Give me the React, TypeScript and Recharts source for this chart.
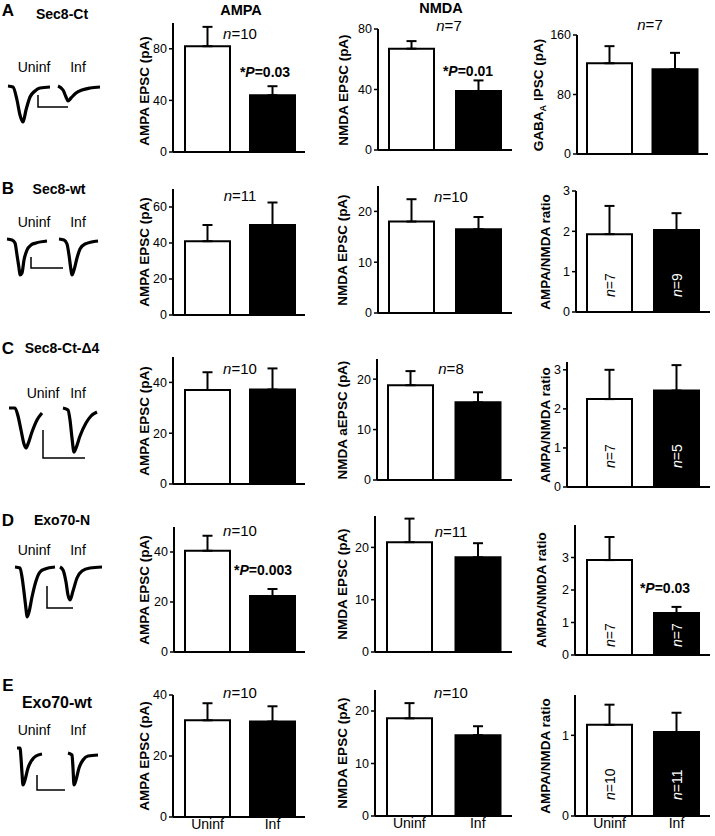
import React from 'react';
import { BarChart, Bar, Cell, XAxis, YAxis, ErrorBar, LabelList, LineChart, Line } from 'recharts';

const groups = ['Uninf', 'Inf'];
const rowLetters = ['A', 'B', 'C', 'D', 'E'];
const constructs = ['Sec8-Ct', 'Sec8-wt', 'Sec8-Ct-Δ4', 'Exo70-N', 'Exo70-wt'];

// mean / sem, order [Uninf, Inf]
const sec8CtAmpa = [82, 44];
const sec8CtAmpaSem = [15, 7];
const sec8CtNmda = [67, 39];
const sec8CtNmdaSem = [5, 7];
const sec8CtGaba = [122, 114];
const sec8CtGabaSem = [23, 22];

const sec8WtAmpa = [41, 50];
const sec8WtAmpaSem = [9, 12.5];
const sec8WtNmda = [18, 16.5];
const sec8WtNmdaSem = [4.4, 2.4];
const sec8WtRatio = [1.93, 2.03];
const sec8WtRatioSem = [0.7, 0.42];

const d4Ampa = [37, 37.2];
const d4AmpaSem = [7, 8.3];
const d4Nmda = [18.8, 15.4];
const d4NmdaSem = [2.8, 2];
const d4Ratio = [2.25, 2.47];
const d4RatioSem = [0.75, 0.65];

const exoNAmpa = [40.5, 22.4];
const exoNAmpaSem = [6, 2.8];
const exoNNmda = [21, 18.1];
const exoNNmdaSem = [4.5, 2.7];
const exoNRatio = [2.92, 1.29];
const exoNRatioSem = [0.71, 0.19];

const exoWtAmpa = [31.7, 31.3];
const exoWtAmpaSem = [5.6, 5];
const exoWtNmda = [18.6, 15.4];
const exoWtNmdaSem = [2.9, 1.7];
const exoWtRatio = [1.13, 1.04];
const exoWtRatioSem = [0.25, 0.24];

// cell counts
const sec8CtN = ['10', '7', '7'];
const sec8WtN = ['11', '10'];
const sec8WtRatioN = ['7', '9'];
const d4N = ['10', '8'];
const d4RatioN = ['7', '5'];
const exoNN = ['10', '11'];
const exoNRatioN = ['7', '7'];
const exoWtN = ['10', '10'];
const exoWtRatioN = ['10', '11'];

// tick labels
const ticks0_40_80 = [0, 40, 80];
const ticks0_80_160 = [0, 80, 160];
const ticks0_20_40_60 = [0, 20, 40, 60];
const ticks0_20_40 = [0, 20, 40];
const ticks0_10_20 = [0, 10, 20];
const ticks0_3 = [0, 1, 2, 3];
const ticks0_1 = [0, 1];

// example traces (time, current)
const uninfA = [{ t: 8, i: 0 }, { t: 13, i: -1 }, { t: 17, i: -14 }, { t: 20, i: -29 }, { t: 23, i: -36 }, { t: 26, i: -24 }, { t: 30, i: -11 }, { t: 35, i: -5 }, { t: 40, i: -2 }, { t: 50, i: -1 }];
const infA = [{ t: 58, i: 0 }, { t: 63, i: -4 }, { t: 66, i: -11 }, { t: 68, i: -15 }, { t: 71, i: -12 }, { t: 76, i: -7 }, { t: 82, i: -4 }, { t: 90, i: -2 }, { t: 100, i: -1 }];
const barA = [{ t: 38, i: -9 }, { t: 38, i: -21 }, { t: 68, i: -21 }];

const uninfB = [{ t: 7, i: 1 }, { t: 12, i: 0 }, { t: 15, i: -3 }, { t: 17, i: -15 }, { t: 19, i: -28 }, { t: 20, i: -35 }, { t: 22, i: -33 }, { t: 24, i: -20 }, { t: 27, i: -10 }, { t: 31, i: -5 }, { t: 36, i: -3 }, { t: 47, i: -1 }];
const infB = [{ t: 59, i: 1 }, { t: 64, i: 0 }, { t: 67, i: -4 }, { t: 69, i: -15 }, { t: 71, i: -30 }, { t: 72, i: -35 }, { t: 74, i: -30 }, { t: 77, i: -18 }, { t: 80, i: -9 }, { t: 85, i: -4 }, { t: 98, i: -1 }];
const barB = [{ t: 31, i: -17 }, { t: 31, i: -28 }, { t: 63, i: -28 }];

const uninfC = [{ t: 9, i: 0 }, { t: 15, i: 0 }, { t: 18, i: -8 }, { t: 21, i: -22 }, { t: 24, i: -36 }, { t: 26, i: -40 }, { t: 28, i: -36 }, { t: 32, i: -24 }, { t: 37, i: -12 }, { t: 42, i: -5 }];
const infC = [{ t: 63, i: 0 }, { t: 68, i: -2 }, { t: 70, i: -12 }, { t: 72, i: -30 }, { t: 74, i: -44 }, { t: 76, i: -40 }, { t: 80, i: -28 }, { t: 86, i: -15 }, { t: 91, i: -8 }, { t: 97, i: -4 }];
const barC = [{ t: 43, i: -22 }, { t: 43, i: -50 }, { t: 85, i: -50 }];

const uninfD = [{ t: 15, i: 0 }, { t: 20, i: -1 }, { t: 22, i: -10 }, { t: 24, i: -25 }, { t: 26, i: -42 }, { t: 27, i: -50 }, { t: 29, i: -45 }, { t: 32, i: -30 }, { t: 36, i: -14 }, { t: 40, i: -5 }, { t: 45, i: -2 }, { t: 55, i: 0 }];
const infD = [{ t: 60, i: 0 }, { t: 63, i: -3 }, { t: 66, i: -15 }, { t: 68, i: -28 }, { t: 70, i: -33 }, { t: 73, i: -24 }, { t: 77, i: -11 }, { t: 82, i: -4 }, { t: 90, i: -1 }, { t: 102, i: 0 }];
const barD = [{ t: 47, i: -19 }, { t: 47, i: -41 }, { t: 73, i: -41 }];

const uninfE = [{ t: 17, i: 0 }, { t: 20, i: 0 }, { t: 21, i: -10 }, { t: 22, i: -25 }, { t: 23, i: -37 }, { t: 25, i: -32 }, { t: 28, i: -20 }, { t: 32, i: -12 }, { t: 36, i: -8 }, { t: 42, i: -6 }];
const infE = [{ t: 68, i: -5 }, { t: 72, i: -7 }, { t: 73, i: -20 }, { t: 74, i: -37 }, { t: 76, i: -32 }, { t: 79, i: -20 }, { t: 83, i: -12 }, { t: 88, i: -8 }, { t: 98, i: -7 }];
const barE = [{ t: 37, i: -27 }, { t: 37, i: -42 }, { t: 65, i: -42 }];

const FONT = '"Liberation Sans", Arial, sans-serif';

const Txt = ({ x, y, size = 14, bold = false, rot = 0, children }: any) => (
  <div
    style={{
      position: 'absolute',
      left: x,
      top: y,
      transform: `translate(-50%, -50%) rotate(${rot}deg)`,
      fontSize: size,
      fontWeight: bold ? 'bold' : 'normal',
      whiteSpace: 'nowrap',
      lineHeight: 1,
    }}
  >
    {children}
  </div>
);

const NLab = ({ n }: { n: string }) => (
  <>
    <i>n</i>={n}
  </>
);

const PLab = ({ p }: { p: string }) => (
  <>
    *<i>P</i>={p}
  </>
);

const YW = 50;
const MT = 12;
const MR = 4;

function Panel(p: any) {
  const xh = p.showX ? 18 : 10;
  const w = YW + (p.R - p.L) + MR;
  const h = MT + (p.B - p.T) + xh;
  const data = groups.map((g, k) => ({
    g,
    v: p.means[k],
    e: [0, p.sems[k]],
    n: p.inside ? p.inside[k] : '',
  }));
  const off = p.insideOff ?? 14;
  return (
    <>
      <div style={{ position: 'absolute', left: p.L - YW, top: p.T - MT }}>
        <BarChart width={w} height={h} data={data} margin={{ top: MT, right: MR, bottom: 0, left: 0 }}>
          <XAxis
            dataKey="g"
            axisLine={{ stroke: '#000', strokeWidth: 2 }}
            tickLine={false}
            tickSize={2}
            tickMargin={0}
            height={xh}
            tick={p.showX ? { fill: '#000', fontSize: 14 } : false}
            padding={{ left: p.padL ?? 0, right: 0 }}
            interval={0}
          />
          <YAxis
            type="number"
            domain={[0, p.max]}
            ticks={p.ticks}
            interval={0}
            allowDataOverflow
            width={YW}
            axisLine={{ stroke: '#000', strokeWidth: 2 }}
            tickLine={{ stroke: '#000', strokeWidth: 1.5 }}
            tickSize={4}
            tickMargin={2}
            tick={{ fill: '#000', fontSize: 12.5 }}
          />
          <Bar dataKey="v" barSize={45} stroke="#000" strokeWidth={2} isAnimationActive={false}>
            {data.map((d, k) => (
              <Cell key={d.g} fill={k === 0 ? '#fff' : '#000'} />
            ))}
            <ErrorBar dataKey="e" width={5} stroke="#000" strokeWidth={2} direction="y" />
            {p.inside && (
              <LabelList
                dataKey="n"
                content={(lp: any) => {
                  const cx = lp.x + lp.width / 2;
                  const by = lp.y + lp.height - off;
                  return (
                    <text
                      x={cx}
                      y={by}
                      transform={`rotate(-90 ${cx} ${by})`}
                      textAnchor="start"
                      dominantBaseline="central"
                      fontSize={14}
                      fill={lp.index === 0 ? '#000' : '#fff'}
                    >
                      <tspan fontStyle="italic">n</tspan>={lp.value}
                    </text>
                  );
                }}
              />
            )}
          </Bar>
        </BarChart>
      </div>
      <Txt x={p.labelX} y={p.labelY ?? (p.T + p.B) / 2} size={13.5} bold rot={-90}>
        {p.ylabel}
      </Txt>
    </>
  );
}

function Traces({ base, uninf, inf, scale }: any) {
  return (
    <div style={{ position: 'absolute', left: 0, top: base - 15 }}>
      <LineChart width={110} height={70} margin={{ top: 0, right: 0, bottom: 0, left: 0 }}>
        <XAxis type="number" dataKey="t" domain={[0, 110]} hide />
        <YAxis type="number" domain={[-55, 15]} hide />
        <Line data={uninf} dataKey="i" type="monotone" stroke="#000" strokeWidth={3.2} dot={false} isAnimationActive={false} />
        <Line data={inf} dataKey="i" type="monotone" stroke="#000" strokeWidth={3.2} dot={false} isAnimationActive={false} />
        <Line data={scale} dataKey="i" type="linear" stroke="#000" strokeWidth={1.5} dot={false} isAnimationActive={false} />
      </LineChart>
    </div>
  );
}

const ampaLabel = 'AMPA EPSC (pA)';
const ratioLabel = 'AMPA/NMDA ratio';

export default function App() {
  const letterY = [10, 188, 348, 520, 685];
  const constructX = [62, 59, 62, 62, 57];
  const constructY = [14, 189, 348, 520, 703];
  const constructSize = [14, 14, 14, 14, 16];
  const uninfX = [34, 34, 43, 34, 34];
  const condY = [67, 222, 393, 550, 730];

  return (
    <div
      style={{
        position: 'absolute',
        left: 0,
        top: 0,
        width: 715,
        height: 836,
        overflow: 'hidden',
        background: '#fff',
        fontFamily: FONT,
        color: '#000',
      }}
    >
      {rowLetters.map((l, r) => (
        <React.Fragment key={l}>
          <Txt x={8} y={letterY[r]} size={17} bold>
            {l}
          </Txt>
          <Txt x={constructX[r]} y={constructY[r]} size={constructSize[r]} bold>
            {constructs[r]}
          </Txt>
          <Txt x={uninfX[r]} y={condY[r]} size={14}>
            {groups[0]}
          </Txt>
          <Txt x={78} y={condY[r]} size={14}>
            {groups[1]}
          </Txt>
        </React.Fragment>
      ))}

      <Traces base={86} uninf={uninfA} inf={infA} scale={barA} />
      <Traces base={240} uninf={uninfB} inf={infB} scale={barB} />
      <Traces base={408} uninf={uninfC} inf={infC} scale={barC} />
      <Traces base={567} uninf={uninfD} inf={infD} scale={barD} />
      <Traces base={748} uninf={uninfE} inf={infE} scale={barE} />

      <Txt x={241} y={10} size={14.5} bold>AMPA</Txt>
      <Txt x={441} y={8} size={14.5} bold>NMDA</Txt>

      {/* Row A */}
      <Panel L={173} T={23} R={305} B={152} padL={2} max={100} ticks={ticks0_40_80} means={sec8CtAmpa} sems={sec8CtAmpaSem} ylabel={ampaLabel} labelX={145} labelY={91} />
      <Panel L={378} T={29} R={512} B={150} max={80} ticks={ticks0_40_80} means={sec8CtNmda} sems={sec8CtNmdaSem} ylabel="NMDA EPSC (pA)" labelX={344} />
      <Panel L={577} T={35} R={708} B={154} max={160} ticks={ticks0_80_160} means={sec8CtGaba} sems={sec8CtGabaSem} ylabel={<>GABA<sub style={{ fontSize: 9 }}>A</sub> IPSC (pA)</>} labelX={540} />
      <Txt x={240} y={33} size={15}><NLab n={sec8CtN[0]} /></Txt>
      <Txt x={449} y={25} size={15}><NLab n={sec8CtN[1]} /></Txt>
      <Txt x={650} y={24} size={15}><NLab n={sec8CtN[2]} /></Txt>
      <Txt x={265} y={72} size={14} bold><PLab p="0.03" /></Txt>
      <Txt x={468} y={71} size={14} bold><PLab p="0.01" /></Txt>

      {/* Row B */}
      <Panel L={173} T={189} R={305} B={315} padL={2} max={70} ticks={ticks0_20_40_60} means={sec8WtAmpa} sems={sec8WtAmpaSem} ylabel={ampaLabel} labelX={145} />
      <Panel L={378} T={186} R={512} B={313} max={25} ticks={ticks0_10_20} means={sec8WtNmda} sems={sec8WtNmdaSem} ylabel="NMDA  EPSC (pA)" labelX={343} />
      <Panel L={576} T={191} R={710} B={312} max={3} ticks={ticks0_3} means={sec8WtRatio} sems={sec8WtRatioSem} ylabel={ratioLabel} labelX={546} inside={sec8WtRatioN} insideOff={15} />
      <Txt x={240} y={195} size={15}><NLab n={sec8WtN[0]} /></Txt>
      <Txt x={451} y={196} size={15}><NLab n={sec8WtN[1]} /></Txt>

      {/* Row C */}
      <Panel L={173} T={357} R={305} B={484} padL={2} max={50} ticks={ticks0_20_40} means={d4Ampa} sems={d4AmpaSem} ylabel={ampaLabel} labelX={145} />
      <Panel L={377} T={359} R={512} B={480} max={24} ticks={ticks0_10_20} means={d4Nmda} sems={d4NmdaSem} ylabel="NMDA  aEPSC (pA)" labelX={343} />
      <Panel L={567} T={362} R={710} B={487} padL={9} max={3.2} ticks={ticks0_3} means={d4Ratio} sems={d4RatioSem} ylabel={ratioLabel} labelX={546} inside={d4RatioN} insideOff={19} />
      <Txt x={240} y={368} size={15}><NLab n={d4N[0]} /></Txt>
      <Txt x={451} y={368} size={15}><NLab n={d4N[1]} /></Txt>

      {/* Row D */}
      <Panel L={174} T={527} R={305} B={652} padL={1} max={50} ticks={ticks0_20_40} means={exoNAmpa} sems={exoNAmpaSem} ylabel={ampaLabel} labelX={145} />
      <Panel L={375} T={516} R={512} B={652} max={26} ticks={ticks0_10_20} means={exoNNmda} sems={exoNNmdaSem} ylabel="NMDA  EPSC (pA)" labelX={343} />
      <Panel L={575} T={525} R={710} B={655} padL={1} max={4} ticks={ticks0_3} means={exoNRatio} sems={exoNRatioSem} ylabel={ratioLabel} labelX={542} inside={exoNRatioN} insideOff={8} />
      <Txt x={240} y={530} size={15}><NLab n={exoNN[0]} /></Txt>
      <Txt x={451} y={531} size={15}><NLab n={exoNN[1]} /></Txt>
      <Txt x={263} y={570} size={14} bold><PLab p="0.003" /></Txt>
      <Txt x={665} y={588} size={14} bold><PLab p="0.03" /></Txt>

      {/* Row E */}
      <Panel L={173} T={695} R={305} B={817} padL={2} max={40} ticks={ticks0_20_40} means={exoWtAmpa} sems={exoWtAmpaSem} ylabel={ampaLabel} labelX={145} showX />
      <Panel L={375} T={690} R={512} B={816} max={24} ticks={ticks0_10_20} means={exoWtNmda} sems={exoWtNmdaSem} ylabel="NMDA  EPSC (pA)" labelX={343} showX />
      <Panel L={575} T={695} R={710} B={816} padL={1} max={1.5} ticks={ticks0_1} means={exoWtRatio} sems={exoWtRatioSem} ylabel={ratioLabel} labelX={546} inside={exoWtRatioN} insideOff={16} showX />
      <Txt x={240} y={692} size={15}><NLab n={exoWtN[0]} /></Txt>
      <Txt x={451} y={692} size={15}><NLab n={exoWtN[1]} /></Txt>
    </div>
  );
}
